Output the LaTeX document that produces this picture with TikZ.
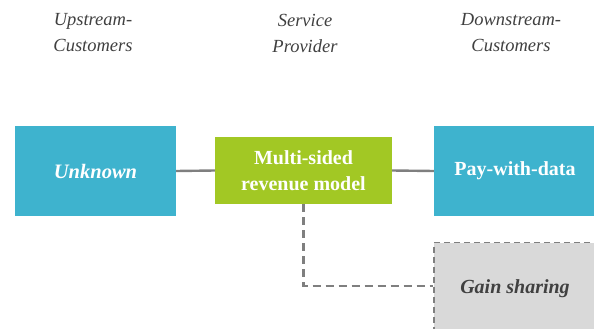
\documentclass[tikz,border=0pt]{standalone}
\usepackage{fontspec}
\setmainfont{Liberation Serif}
\definecolor{boxblue}{HTML}{3EB3CE}
\definecolor{boxgreen}{HTML}{A2C824}
\definecolor{boxgrey}{HTML}{D9D9D9}
\definecolor{linegrey}{HTML}{7F7F7F}
\definecolor{textgrey}{HTML}{404040}
\tikzset{
  header/.style={font=\fontsize{18.5}{26}\selectfont\itshape, text=textgrey, align=center, inner sep=0pt},
  solidbox/.style={draw=none, inner sep=0pt, align=center, text=white, font=\fontsize{20}{26}\selectfont\bfseries},
  conn/.style={draw=linegrey, line width=2.4pt},
  dconn/.style={draw=linegrey, line width=2.2pt, dash pattern=on 8pt off 5pt},
}
\begin{document}
\begin{tikzpicture}[x=1pt,y=-1pt]
\useasboundingbox (0,0) rectangle (594,329);
\clip (0,0) rectangle (594,329);
% headers
\node[header] (h1) at (93,33) {Upstream-\\Customers};
\node[header] (h2) at (305,33) {Service\\Provider};
\node[header] (h3) at (511,33) {Downstream-\\Customers};
% boxes
\node[solidbox, fill=boxblue, minimum width=161pt, minimum height=90pt, font=\fontsize{20.5}{26}\selectfont\bfseries\itshape] (unk) at (95.5,171) {Unknown};
\node[solidbox, fill=boxgreen, minimum width=177pt, minimum height=67pt] (msr) at (303.5,170.5) {Multi-sided\\revenue model};
\node[solidbox, fill=boxblue, minimum width=162pt, minimum height=90pt] (pwd) at (515,171) {Pay-with-data};
\node[draw=linegrey, line width=1.5pt, dash pattern=on 6pt off 4pt, fill=boxgrey, minimum width=162pt, minimum height=92pt, inner sep=0pt, text=textgrey, font=\fontsize{20}{26}\selectfont\bfseries\itshape] (gain) at (515,288.5) {Gain sharing};
% connectors
\draw[conn] (unk.east) -- (msr.west);
\draw[conn] (msr.east) -- (pwd.west);
\coordinate (corner) at (msr.south |- 0,286);
\draw[dconn] (msr.south) -- (corner) -- (corner -| gain.west);
\end{tikzpicture}
\end{document}
